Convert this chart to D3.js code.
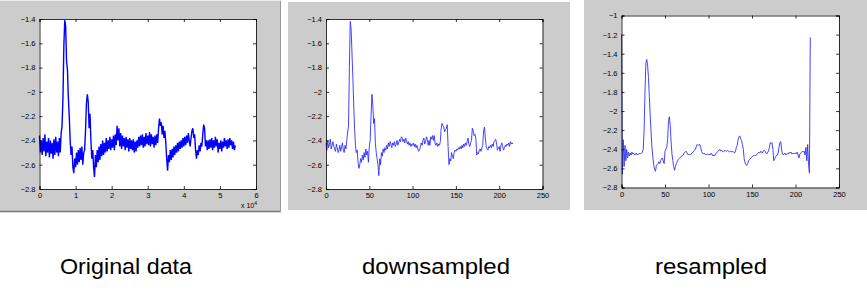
<!DOCTYPE html>
<html>
<head>
<meta charset="utf-8">
<script src="https://cdn.jsdelivr.net/npm/d3@7"></script>
<style>
  body { margin: 0; background: #fff; }
  svg { display: block; }
  .tick text { font-family: "Liberation Sans", Arial, sans-serif; font-size: 7.5px; fill: #000; }
  .caption { font-family: "Liberation Sans", Arial, sans-serif; font-size: 22px; fill: #000; }
</style>
</head>
<body>
<script>
// Original signal, one reading every 250 samples (sample number = index * 250)
const originalValues = [
  -2.36, -2.50, -2.40, -2.52, -2.38, -2.49, -2.35, -2.53, -2.41, -2.50,
  -2.38, -2.54, -2.40, -2.51, -2.42, -2.55, -2.39, -2.52, -2.37, -2.50,
  -2.41, -2.53, -2.38, -2.50, -2.34, -2.28, -2.05, -1.62, -1.41, -1.46,
  -1.75, -1.82, -2.05, -2.20, -2.40, -2.52, -2.45, -2.62, -2.67, -2.55,
  -2.62, -2.50, -2.60, -2.48, -2.58, -2.46, -2.56, -2.45, -2.60, -2.50,
  -2.48, -2.32, -2.10, -2.02, -2.08, -2.30, -2.18, -2.40, -2.55, -2.48,
  -2.62, -2.70, -2.52, -2.62, -2.48, -2.58, -2.45, -2.56, -2.43, -2.53,
  -2.40, -2.52, -2.42, -2.50, -2.38, -2.49, -2.40, -2.47, -2.37, -2.48,
  -2.39, -2.46, -2.36, -2.48, -2.35, -2.44, -2.28, -2.40, -2.30, -2.45,
  -2.34, -2.47, -2.36, -2.45, -2.38, -2.48, -2.37, -2.46, -2.39, -2.49,
  -2.38, -2.47, -2.40, -2.48, -2.39, -2.50, -2.41, -2.49, -2.40, -2.46,
  -2.37, -2.45, -2.36, -2.44, -2.35, -2.46, -2.37, -2.45, -2.34, -2.43,
  -2.36, -2.44, -2.33, -2.45, -2.35, -2.43, -2.37, -2.46, -2.36, -2.44,
  -2.35, -2.42, -2.30, -2.22, -2.28, -2.25, -2.35, -2.28, -2.38, -2.32,
  -2.42, -2.55, -2.65, -2.52, -2.58, -2.48, -2.56, -2.47, -2.54, -2.45,
  -2.52, -2.44, -2.50, -2.42, -2.49, -2.41, -2.47, -2.40, -2.46, -2.38,
  -2.45, -2.37, -2.44, -2.36, -2.42, -2.34, -2.40, -2.45, -2.38, -2.32,
  -2.30, -2.38, -2.35, -2.48, -2.55, -2.48, -2.52, -2.44, -2.49, -2.42,
  -2.45, -2.35, -2.27, -2.30, -2.45, -2.40, -2.48, -2.40, -2.47, -2.39,
  -2.46, -2.38, -2.48, -2.40, -2.46, -2.37, -2.45, -2.39, -2.50, -2.42,
  -2.47, -2.40, -2.49, -2.41, -2.46, -2.38, -2.45, -2.40, -2.47, -2.39,
  -2.46, -2.38, -2.44, -2.40, -2.47, -2.41, -2.48, -2.44
];
const originalStep = 250;

const downsampledValues = [
  -2.42, -2.48, -2.40, -2.46, -2.43, -2.39, -2.47, -2.44, -2.41, -2.45,
  -2.47, -2.49, -2.43, -2.46, -2.50, -2.48, -2.44, -2.49, -2.45, -2.42,
  -2.48, -2.50, -2.44, -2.47, -2.40, -2.33, -2.28, -1.80, -1.42, -1.48,
  -1.68, -1.88, -2.10, -2.30, -2.44, -2.50, -2.48, -2.58, -2.63, -2.60,
  -2.55, -2.58, -2.52, -2.56, -2.50, -2.54, -2.47, -2.52, -2.49, -2.58,
  -2.45, -2.40, -2.20, -2.02, -2.10, -2.26, -2.22, -2.42, -2.50, -2.55,
  -2.60, -2.69, -2.55, -2.60, -2.50, -2.53, -2.47, -2.50, -2.46, -2.48,
  -2.44, -2.47, -2.42, -2.45, -2.41, -2.43, -2.46, -2.42, -2.44, -2.41,
  -2.45, -2.43, -2.40, -2.44, -2.42, -2.39, -2.41, -2.37, -2.38, -2.41,
  -2.39, -2.42, -2.38, -2.40, -2.43, -2.41, -2.44, -2.42, -2.45, -2.43,
  -2.44, -2.42, -2.45, -2.43, -2.46, -2.44, -2.47, -2.49, -2.48, -2.45,
  -2.42, -2.44, -2.40, -2.38, -2.43, -2.41, -2.37, -2.39, -2.44, -2.40,
  -2.44, -2.37, -2.39, -2.36, -2.40, -2.36, -2.43, -2.44, -2.42, -2.45,
  -2.43, -2.44, -2.41, -2.30, -2.26, -2.28, -2.29, -2.33, -2.31, -2.30,
  -2.27, -2.45, -2.60, -2.55, -2.57, -2.50, -2.53, -2.55, -2.50, -2.48,
  -2.49, -2.47, -2.48, -2.46, -2.47, -2.45, -2.47, -2.44, -2.46, -2.43,
  -2.45, -2.42, -2.44, -2.41, -2.38, -2.43, -2.45, -2.42, -2.40, -2.30,
  -2.32, -2.36, -2.35, -2.38, -2.52, -2.50, -2.51, -2.48, -2.47, -2.49,
  -2.46, -2.44, -2.32, -2.29, -2.38, -2.45, -2.47, -2.48, -2.45, -2.46,
  -2.44, -2.46, -2.43, -2.45, -2.41, -2.40, -2.39, -2.43, -2.48, -2.46,
  -2.45, -2.49, -2.44, -2.42, -2.45, -2.48, -2.46, -2.44, -2.45, -2.43,
  -2.44, -2.42, -2.45, -2.41, -2.43, -2.42, -2.43
];

const resampledValues = [
  -1.20, -2.66, -2.30, -2.58, -2.36, -2.52, -2.40, -2.49, -2.43, -2.47,
  -2.44, -2.46, -2.43, -2.45, -2.44, -2.46, -2.45, -2.44, -2.46, -2.45,
  -2.45, -2.44, -2.45, -2.44, -2.43, -2.40, -2.20, -1.80, -1.50, -1.46,
  -1.52, -1.65, -1.85, -2.05, -2.22, -2.38, -2.48, -2.56, -2.61, -2.63,
  -2.58, -2.56, -2.55, -2.53, -2.55, -2.52, -2.50, -2.49, -2.52, -2.55,
  -2.42, -2.40, -2.38, -2.30, -2.10, -2.06, -2.15, -2.32, -2.45, -2.52,
  -2.58, -2.62, -2.58, -2.55, -2.53, -2.51, -2.50, -2.49, -2.48, -2.47,
  -2.47, -2.46, -2.44, -2.43, -2.42, -2.43, -2.45, -2.46, -2.45, -2.46,
  -2.45, -2.44, -2.43, -2.42, -2.41, -2.40, -2.37, -2.35, -2.36, -2.35,
  -2.35, -2.38, -2.42, -2.44, -2.45, -2.44, -2.45, -2.46, -2.45, -2.45,
  -2.46, -2.45, -2.46, -2.44, -2.45, -2.47, -2.46, -2.47, -2.45, -2.44,
  -2.43, -2.42, -2.41, -2.40, -2.42, -2.41, -2.42, -2.43, -2.42, -2.41,
  -2.42, -2.42, -2.41, -2.42, -2.43, -2.42, -2.42, -2.43, -2.42, -2.43,
  -2.44, -2.42, -2.38, -2.36, -2.30, -2.27, -2.26, -2.29, -2.31, -2.35,
  -2.40, -2.50, -2.54, -2.56, -2.57, -2.55, -2.52, -2.51, -2.50, -2.49,
  -2.48, -2.47, -2.47, -2.46, -2.47, -2.46, -2.45, -2.44, -2.43, -2.44,
  -2.42, -2.43, -2.44, -2.42, -2.41, -2.42, -2.44, -2.45, -2.43, -2.42,
  -2.38, -2.33, -2.34, -2.33, -2.40, -2.52, -2.50, -2.48, -2.47, -2.46,
  -2.44, -2.38, -2.33, -2.32, -2.40, -2.45, -2.46, -2.45, -2.44, -2.46,
  -2.45, -2.44, -2.45, -2.43, -2.44, -2.43, -2.45, -2.44, -2.45, -2.44,
  -2.44, -2.45, -2.43, -2.46, -2.49, -2.45, -2.44, -2.43, -2.42, -2.43,
  -2.42, -2.46, -2.38, -2.52, -2.35, -2.56, -2.65, -1.23
];

// tick values
const ticksX1 = [0, 1e4, 2e4, 3e4, 4e4, 5e4, 6e4];
const ticksX2 = [0, 50, 100, 150, 200, 250];
const ticksY1 = [-2.8, -2.6, -2.4, -2.2, -2, -1.8, -1.6, -1.4];
const ticksY3 = [-2.8, -2.6, -2.4, -2.2, -2, -1.8, -1.6, -1.4, -1.2, -1];
const captions = ["Original data", "downsampled", "resampled"];

var svg = d3.select("body").append("svg")
  .attr("width", 867)
  .attr("height", 291);

// one matlab-style figure window
function drawPanel(p) {
  var g = svg.append("g");

  // grey figure background
  g.append("rect")
    .attr("x", p.fig[0]).attr("y", p.fig[1])
    .attr("width", p.fig[2]).attr("height", p.fig[3])
    .attr("fill", "#cccccc");
  if (p.shadow) {
    g.append("line")
      .attr("x1", p.fig[0]).attr("x2", p.fig[0] + p.fig[2])
      .attr("y1", p.fig[1] + p.fig[3] - 0.5).attr("y2", p.fig[1] + p.fig[3] - 0.5)
      .attr("stroke", "#777").attr("stroke-width", 1.5);
    g.append("line")
      .attr("x1", p.fig[0] + p.fig[2] - 0.5).attr("x2", p.fig[0] + p.fig[2] - 0.5)
      .attr("y1", p.fig[1]).attr("y2", p.fig[1] + p.fig[3])
      .attr("stroke", "#999").attr("stroke-width", 1);
    g.append("line")
      .attr("x1", p.fig[0]).attr("x2", p.fig[0] + p.fig[2])
      .attr("y1", p.fig[1] + 0.5).attr("y2", p.fig[1] + 0.5)
      .attr("stroke", "#eee").attr("stroke-width", 1);
  }

  var w = p.box[2] - p.box[0];
  var h = p.box[3] - p.box[1];
  var plot = g.append("g")
    .attr("transform", `translate(${p.box[0]}, ${p.box[1]})`);

  plot.append("rect")
    .attr("width", w).attr("height", h)
    .attr("fill", "#fff");

  var x = d3.scaleLinear().domain(p.xDomain).range([0, w]);
  var y = d3.scaleLinear().domain(p.yDomain).range([h, 0]);

  // data line
  var line = d3.line()
    .x((d, i) => x(i * p.step))
    .y(d => y(d));

  plot.append("path")
    .datum(p.values)
    .attr("fill", "none")
    .attr("stroke", p.color)
    .attr("stroke-width", p.width)
    .attr("stroke-linejoin", "miter")
    .attr("d", line);

  // axes, ticks pointing inward on all four sides
  var fmtX = p.xFmt || (d => d);
  var fmtY = d => d3.format("")(+d.toFixed(1));

  plot.append("g")
    .attr("transform", `translate(0, ${h})`)
    .call(d3.axisBottom(x).tickValues(p.xTicks).tickSize(-3).tickPadding(4).tickFormat(fmtX));
  plot.append("g")
    .call(d3.axisTop(x).tickValues(p.xTicks).tickSize(-3).tickFormat(""));
  plot.append("g")
    .call(d3.axisLeft(y).tickValues(p.yTicks).tickSize(-3).tickPadding(4).tickFormat(fmtY));
  plot.append("g")
    .attr("transform", `translate(${w}, 0)`)
    .call(d3.axisRight(y).tickValues(p.yTicks).tickSize(-3).tickFormat(""));

  plot.selectAll(".domain").attr("stroke", "#000").attr("stroke-width", 0.8);
  plot.selectAll(".tick line").attr("stroke", "#000").attr("stroke-width", 0.8);

  // caption under the figure
  svg.append("text")
    .attr("class", "caption")
    .attr("x", p.caption[1])
    .attr("y", 274)
    .attr("text-anchor", "middle")
    .attr("textLength", p.caption[2])
    .attr("lengthAdjust", "spacingAndGlyphs")
    .text(p.caption[0]);

  return { plot: plot, w: w, h: h };
}

var p1 = drawPanel({
  fig: [0, 0, 281, 212], box: [39.5, 19, 256, 189], shadow: true,
  xDomain: [0, 6e4], yDomain: [-2.8, -1.4],
  xTicks: ticksX1, yTicks: ticksY1, xFmt: d => d / 1e4,
  values: originalValues, step: originalStep,
  color: "#0000ff", width: 1.4,
  caption: [captions[0], 126, 132]
});

// the "x 10^4" exponent label
var expo = p1.plot.append("text")
  .attr("x", p1.w - 15)
  .attr("y", p1.h + 19)
  .style("font-family", "Liberation Sans, Arial, sans-serif")
  .style("font-size", "7px");
expo.append("tspan").text("x 10");
expo.append("tspan").attr("dy", -3).style("font-size", "5px").text("4");

drawPanel({
  fig: [288, 2, 282, 208], box: [326, 19, 542.5, 189], shadow: false,
  xDomain: [0, 250], yDomain: [-2.8, -1.4],
  xTicks: ticksX2, yTicks: ticksY1,
  values: downsampledValues, step: 1,
  color: "#3030ff", width: 0.9,
  caption: [captions[1], 436, 148]
});

drawPanel({
  fig: [584, 0, 283, 210], box: [621.5, 15.5, 839, 187.5], shadow: false,
  xDomain: [0, 250], yDomain: [-2.8, -1],
  xTicks: ticksX2, yTicks: ticksY3,
  values: resampledValues, step: 1,
  color: "#3030ff", width: 0.9,
  caption: [captions[2], 711, 112]
});
</script>
</body>
</html>
